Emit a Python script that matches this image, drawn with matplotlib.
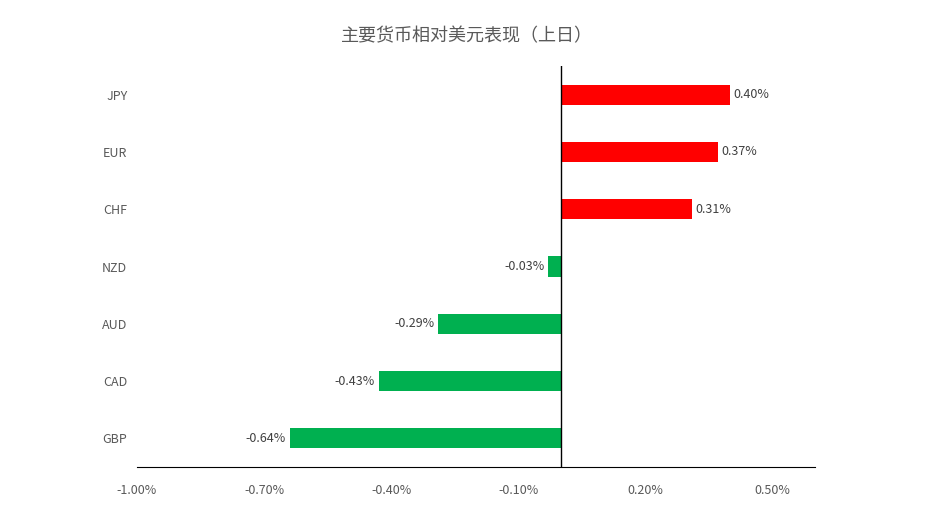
import matplotlib
matplotlib.use("Agg")
import matplotlib.pyplot as plt

plt.rcParams['font.family'] = ['Noto Sans CJK SC', 'DejaVu Sans']

currencies = ["JPY", "EUR", "CHF", "NZD", "AUD", "CAD", "GBP"]
values = [0.40, 0.37, 0.31, -0.03, -0.29, -0.43, -0.64]
xticks = [-1.0, -0.7, -0.4, -0.1, 0.2, 0.5]
xticklabels = ["-1.00%", "-0.70%", "-0.40%", "-0.10%", "0.20%", "0.50%"]

fig = plt.figure(figsize=(9.33, 5.31), dpi=100)
ax = fig.add_axes([137/933, 1-467/531, (815-137)/933, (467-66)/531])

ypos = list(range(len(currencies)))
colors = ["#FF0000" if v > 0 else "#00B050" for v in values]
ax.barh(ypos, values, height=0.35, color=colors)
ax.set_ylim(len(currencies)-0.5, -0.5)
ax.set_xlim(-1.0, 0.6)
ax.axvline(0, color="black", lw=1)

for y, v in zip(ypos, values):
    ax.text(v + (0.008 if v > 0 else -0.008), y, f"{v:.2f}%",
            ha="left" if v > 0 else "right", va="center", fontsize=9, color="#404040")

ax.set_yticks(ypos)
ax.set_yticklabels(currencies, fontsize=9, color="#595959")
ax.set_xticks(xticks)
ax.set_xticklabels(xticklabels, fontsize=9, color="#595959")
ax.tick_params(axis="both", length=0)
ax.tick_params(axis="y", pad=7)
ax.tick_params(axis="x", pad=12)
for s in ["left", "right", "top"]:
    ax.spines[s].set_visible(False)
ax.spines["bottom"].set_color("black")

fig.text(0.5, 1-36/531, "主要货币相对美元表现（上日）", ha="center", va="center",
         fontsize=13, color="#595959")

fig.savefig("out.png", dpi=100)
